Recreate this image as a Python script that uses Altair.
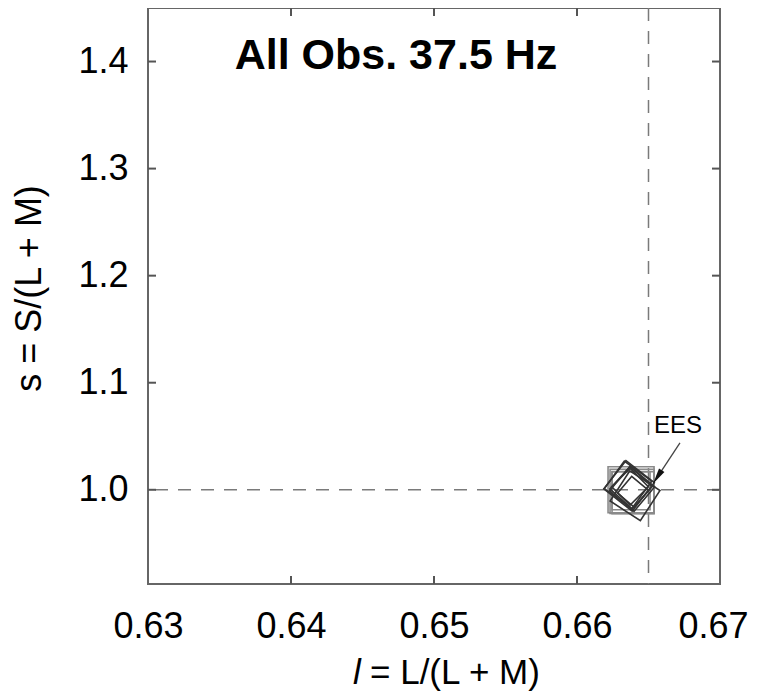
import altair as alt
import pandas as pd

FONT = "Liberation Sans"

# axis ticks
x_ticks = [0.63, 0.64, 0.65, 0.66, 0.67]
y_ticks = [1.0, 1.1, 1.2, 1.3, 1.4]
x_inner_ticks = [0.64, 0.65, 0.66]
y_inner_ticks = [1.0, 1.1, 1.2, 1.3, 1.4]

# squares (gray)
sq_l = [0.66378, 0.66378, 0.66392, 0.66385]
sq_s = [1.0000, 0.9991, 0.9972, 0.9985]
sq_size = [2116, 1444, 1764, 1936]

# tilted squares (dark)
dm_l = [0.66364, 0.66385, 0.66406, 0.66371, 0.66392, 0.66357, 0.66378]
dm_s = [1.0037, 1.0009, 0.9944, 1.0028, 0.9981, 1.0046, 1.0019]
dm_size = [1296, 1024, 1296, 676, 484, 1156, 900]
dm_angle = [38, 40, 33, 45, 40, 36, 42]

# equal-energy spectrum reference
ees_l = 0.665
ees_s = 1.0

# EES label + arrow
ees_label_l = [0.66706]
ees_label_s = [1.0598]
arrow_l = [0.66720, 0.66562]
arrow_s = [1.0439, 1.0119]

x_dom = [0.63, 0.67]
y_dom = [0.912, 1.45]

xs = alt.Scale(domain=x_dom, nice=False, zero=False)
ys = alt.Scale(domain=y_dom, nice=False, zero=False)

sq_df = pd.DataFrame({"l": sq_l, "s": sq_s, "size": sq_size})
dm_df = pd.DataFrame({"l": dm_l, "s": dm_s, "size": dm_size, "angle": dm_angle})

base_x = alt.X("l:Q", scale=xs,
               axis=alt.Axis(values=x_ticks, format=".2f", title=None,
                             labelPadding=25, labelFlush=False,
                             labelOffset={"condition": {"test": "datum.value > 0.669", "value": -7},
                                          "value": 0},
                             ticks=False, domain=False, grid=False,
                             labelFont=FONT, labelFontSize=36, labelColor="black"))
base_y = alt.Y("s:Q", scale=ys,
               axis=alt.Axis(values=y_ticks, format=".1f",
                             title="s = S/(L + M)", labelPadding=20,
                             ticks=False, domain=False, grid=False,
                             labelFont=FONT, labelFontSize=36, labelColor="black",
                             titleX=-119, titleY=280, titleAngle=270,
                             titleAlign="center", titleBaseline="middle",
                             titleFontSize=36, titleFontWeight="normal",
                             titleFont=FONT, titleColor="black"))

squares = alt.Chart(sq_df).mark_point(
    shape="square", filled=False, color="#8a8a8a", strokeWidth=1.6, opacity=1
).encode(x=base_x, y=base_y, size=alt.Size("size:Q", scale=None, legend=None))

diamonds = alt.Chart(dm_df).mark_point(
    shape="square", filled=False, color="#333333", strokeWidth=1.6, opacity=1
).encode(x=alt.X("l:Q", scale=xs), y=alt.Y("s:Q", scale=ys),
         size=alt.Size("size:Q", scale=None, legend=None),
         angle=alt.Angle("angle:Q", scale=None))

vline = alt.Chart(pd.DataFrame({"l": [ees_l]})).mark_rule(
    color="#7a7a7a", strokeWidth=1.5, strokeDash=[13, 10]
).encode(x=alt.X("l:Q", scale=xs))

hline = alt.Chart(pd.DataFrame({"s": [ees_s]})).mark_rule(
    color="#7a7a7a", strokeWidth=1.5, strokeDash=[13, 10]
).encode(y=alt.Y("s:Q", scale=ys))

# inner ticks on all sides
xt_df = pd.DataFrame({"l": x_inner_ticks})
yt_df = pd.DataFrame({"s": y_inner_ticks})
tick_color = "#555555"
xt_bottom = alt.Chart(xt_df).mark_rule(color=tick_color, strokeWidth=2).encode(
    x=alt.X("l:Q", scale=xs), y=alt.value(576), y2=alt.value(568))
xt_top = alt.Chart(xt_df).mark_rule(color=tick_color, strokeWidth=2).encode(
    x=alt.X("l:Q", scale=xs), y=alt.value(0), y2=alt.value(8))
yt_left = alt.Chart(yt_df).mark_rule(color=tick_color, strokeWidth=2).encode(
    y=alt.Y("s:Q", scale=ys), x=alt.value(0), x2=alt.value(8))
yt_right = alt.Chart(yt_df).mark_rule(color=tick_color, strokeWidth=2).encode(
    y=alt.Y("s:Q", scale=ys), x=alt.value(572), x2=alt.value(564))

# arrow
arrow_df = pd.DataFrame({"l": [arrow_l[0]], "s": [arrow_s[0]],
                         "l2": [arrow_l[1]], "s2": [arrow_s[1]]})
arrow_line = alt.Chart(arrow_df).mark_rule(color="#444444", strokeWidth=1.3).encode(
    x=alt.X("l:Q", scale=xs), y=alt.Y("s:Q", scale=ys), x2="l2:Q", y2="s2:Q")
head_df = pd.DataFrame({"l": [arrow_l[1]], "s": [arrow_s[1]]})
arrow_head = alt.Chart(head_df).mark_point(
    shape="M0,-1L0.4,1L-0.4,1Z", filled=True, color="#111111", size=256,
    angle=213, opacity=1
).encode(x=alt.X("l:Q", scale=xs), y=alt.Y("s:Q", scale=ys))

ees_text = alt.Chart(pd.DataFrame({"l": ees_label_l, "s": ees_label_s, "t": ["EES"]})).mark_text(
    font=FONT, fontSize=24, color="black", align="center", baseline="middle"
).encode(x=alt.X("l:Q", scale=xs), y=alt.Y("s:Q", scale=ys), text="t:N")

one = pd.DataFrame({"t": ["All Obs. 37.5 Hz"]})
title_text = alt.Chart(one).mark_text(
    font=FONT, fontSize=43, fontWeight="bold", color="black",
    align="center", baseline="alphabetic"
).encode(x=alt.value(248), y=alt.value(61), text="t:N")

xl_italic = alt.Chart(pd.DataFrame({"t": ["l"]})).mark_text(
    font=FONT, fontSize=35, fontStyle="italic", color="black",
    align="center", baseline="alphabetic"
).encode(x=alt.value(209), y=alt.value(676), text="t:N")
xl_rest = alt.Chart(pd.DataFrame({"t": ["= L/(L + M)"]})).mark_text(
    font=FONT, fontSize=35, color="black", align="left", baseline="alphabetic"
).encode(x=alt.value(222), y=alt.value(676), text="t:N")

chart = alt.layer(
    hline, vline, squares, diamonds, arrow_line, arrow_head, ees_text,
    xt_bottom, xt_top, yt_left, yt_right, title_text, xl_italic, xl_rest
).properties(
    width=572, height=576,
    autosize=alt.AutoSizeParams(type="none"),
    padding={"left": 140, "top": 0, "right": 29, "bottom": 110},
    background="white",
).configure_view(
    stroke="#666666", strokeWidth=2, fill="white"
)

chart.save("out.html", embed_options={"renderer": "svg", "actions": False})
